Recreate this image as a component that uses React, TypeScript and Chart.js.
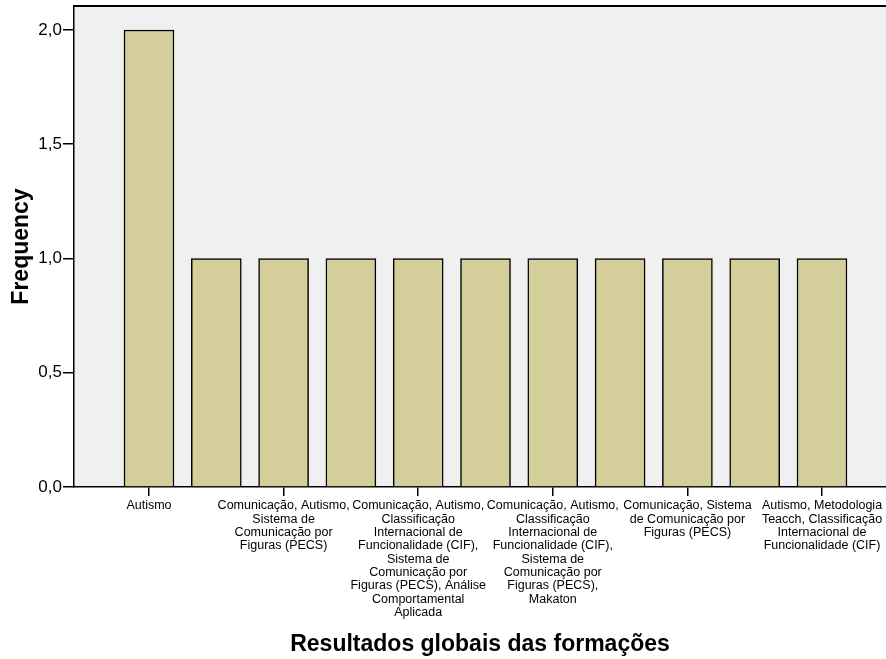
import React, { useEffect, useRef } from "react";
import { Chart, registerables } from "chart.js";

Chart.register(...registerables);

// Category labels (only every other one is shown on the axis in the reference)
const categories: (string[] | null)[] = [
  ["Autismo"],
  null,
  ["Comunicação, Autismo,", "Sistema de", "Comunicação por", "Figuras (PECS)"],
  null,
  [
    "Comunicação, Autismo,",
    "Classificação",
    "Internacional de",
    "Funcionalidade (CIF),",
    "Sistema de",
    "Comunicação por",
    "Figuras (PECS), Análise",
    "Comportamental",
    "Aplicada",
  ],
  null,
  [
    "Comunicação, Autismo,",
    "Classificação",
    "Internacional de",
    "Funcionalidade (CIF),",
    "Sistema de",
    "Comunicação por",
    "Figuras (PECS),",
    "Makaton",
  ],
  null,
  ["Comunicação, Sistema", "de Comunicação por", "Figuras (PECS)"],
  null,
  ["Autismo, Metodologia", "Teacch, Classificação", "Internacional de", "Funcionalidade (CIF)"],
];

const frequencies: number[] = [2, 1, 1, 1, 1, 1, 1, 1, 1, 1, 1];

const yTicks: number[] = [0, 0.5, 1, 1.5, 2];

const xTitle = "Resultados globais das formações";
const yTitle = "Frequency";

const FONT = "'Liberation Sans', Arial, Helvetica, sans-serif";

export default function App() {
  const canvasRef = useRef<HTMLCanvasElement | null>(null);

  useEffect(() => {
    const canvas = canvasRef.current;
    if (!canvas) return;

    const bgPlugin = {
      id: "bgPlugin",
      beforeDraw(chart: any) {
        const { ctx, chartArea } = chart;
        ctx.save();
        ctx.fillStyle = "#ffffff";
        ctx.fillRect(0, 0, chart.width, chart.height);
        ctx.fillStyle = "#f0f0f0";
        ctx.fillRect(chartArea.left, chartArea.top, chartArea.right - chartArea.left, chartArea.bottom - chartArea.top);
        ctx.restore();
      },
      afterDraw(chart: any) {
        const { ctx, chartArea } = chart;
        ctx.save();
        ctx.strokeStyle = "#000000";
        ctx.lineWidth = 2;
        ctx.beginPath();
        ctx.moveTo(chartArea.left, chartArea.top);
        ctx.lineTo(chartArea.right, chartArea.top);
        ctx.stroke();
        ctx.restore();
      },
    };

    const chart = new Chart(canvas, {
      type: "bar",
      data: {
        datasets: [
          {
            data: frequencies.map((v, i) => ({ x: i, y: v })),
            backgroundColor: "#d3ce9a",
            borderColor: "#000000",
            borderWidth: 1.5,
            barThickness: 50,
          } as any,
        ],
      },
      options: {
        animation: false,
        responsive: false,
        events: [],
        layout: { padding: { top: 6, left: 0, right: 0, bottom: 0 } },
        plugins: {
          legend: { display: false },
          tooltip: { enabled: false },
        },
        scales: {
          x: {
            type: "linear",
            offset: false,
            min: -1.1144,
            max: 10.951,
            afterFit(scale: any) {
              scale.height = 172;
              scale.paddingLeft = 0;
              scale.paddingRight = 0;
            },
            afterBuildTicks(scale: any) {
              scale.ticks = categories
                .map((c, i) => ({ value: i, c }))
                .filter((t) => t.c !== null)
                .map((t) => ({ value: t.value }));
            },
            grid: {
              offset: false,
              drawOnChartArea: false,
              drawTicks: true,
              tickLength: 9,
              color: "#000000",
              lineWidth: 1.5,
            },
            border: { display: true, color: "#000000", width: 1.5 },
            ticks: {
              autoSkip: false,
              maxRotation: 0,
              minRotation: 0,
              padding: 3,
              color: "#000000",
              font: { family: FONT, size: 12.5, lineHeight: 1.07 },
              callback: (value: any) => {
                const i = Math.round(Number(value));
                const lab = categories[i];
                return lab ? lab : "";
              },
            },
            title: {
              display: true,
              text: xTitle,
              color: "#000000",
              font: { family: FONT, size: 23, weight: "bold", lineHeight: 1 },
              padding: { top: 0, bottom: 3 },
            },
          } as any,
          y: {
            type: "linear",
            min: 0,
            max: 2.105,
            afterFit(scale: any) {
              scale.width = 74;
              scale.paddingTop = 0;
              scale.paddingBottom = 0;
            },
            afterBuildTicks(scale: any) {
              scale.ticks = yTicks.map((v) => ({ value: v }));
            },
            grid: {
              drawOnChartArea: false,
              drawTicks: true,
              tickLength: 11,
              color: "#000000",
              lineWidth: 1.5,
            },
            border: { display: true, color: "#000000", width: 1.5 },
            ticks: {
              padding: 1,
              color: "#000000",
              font: { family: FONT, size: 17 },
              callback: (value: any) => Number(value).toFixed(1).replace(".", ","),
            },
            title: {
              display: true,
              text: yTitle,
              color: "#000000",
              font: { family: FONT, size: 23, weight: "bold", lineHeight: 1 },
              padding: { top: 10, bottom: 0 },
            },
          } as any,
        },
      },
      plugins: [bgPlugin],
    });

    return () => {
      chart.destroy();
    };
  }, []);

  return (
    <div style={{ position: "absolute", left: 0, top: 0, width: 886, height: 659, background: "#ffffff" }}>
      <canvas ref={canvasRef} width={886} height={659} style={{ display: "block", width: 886, height: 659 }} />
    </div>
  );
}
